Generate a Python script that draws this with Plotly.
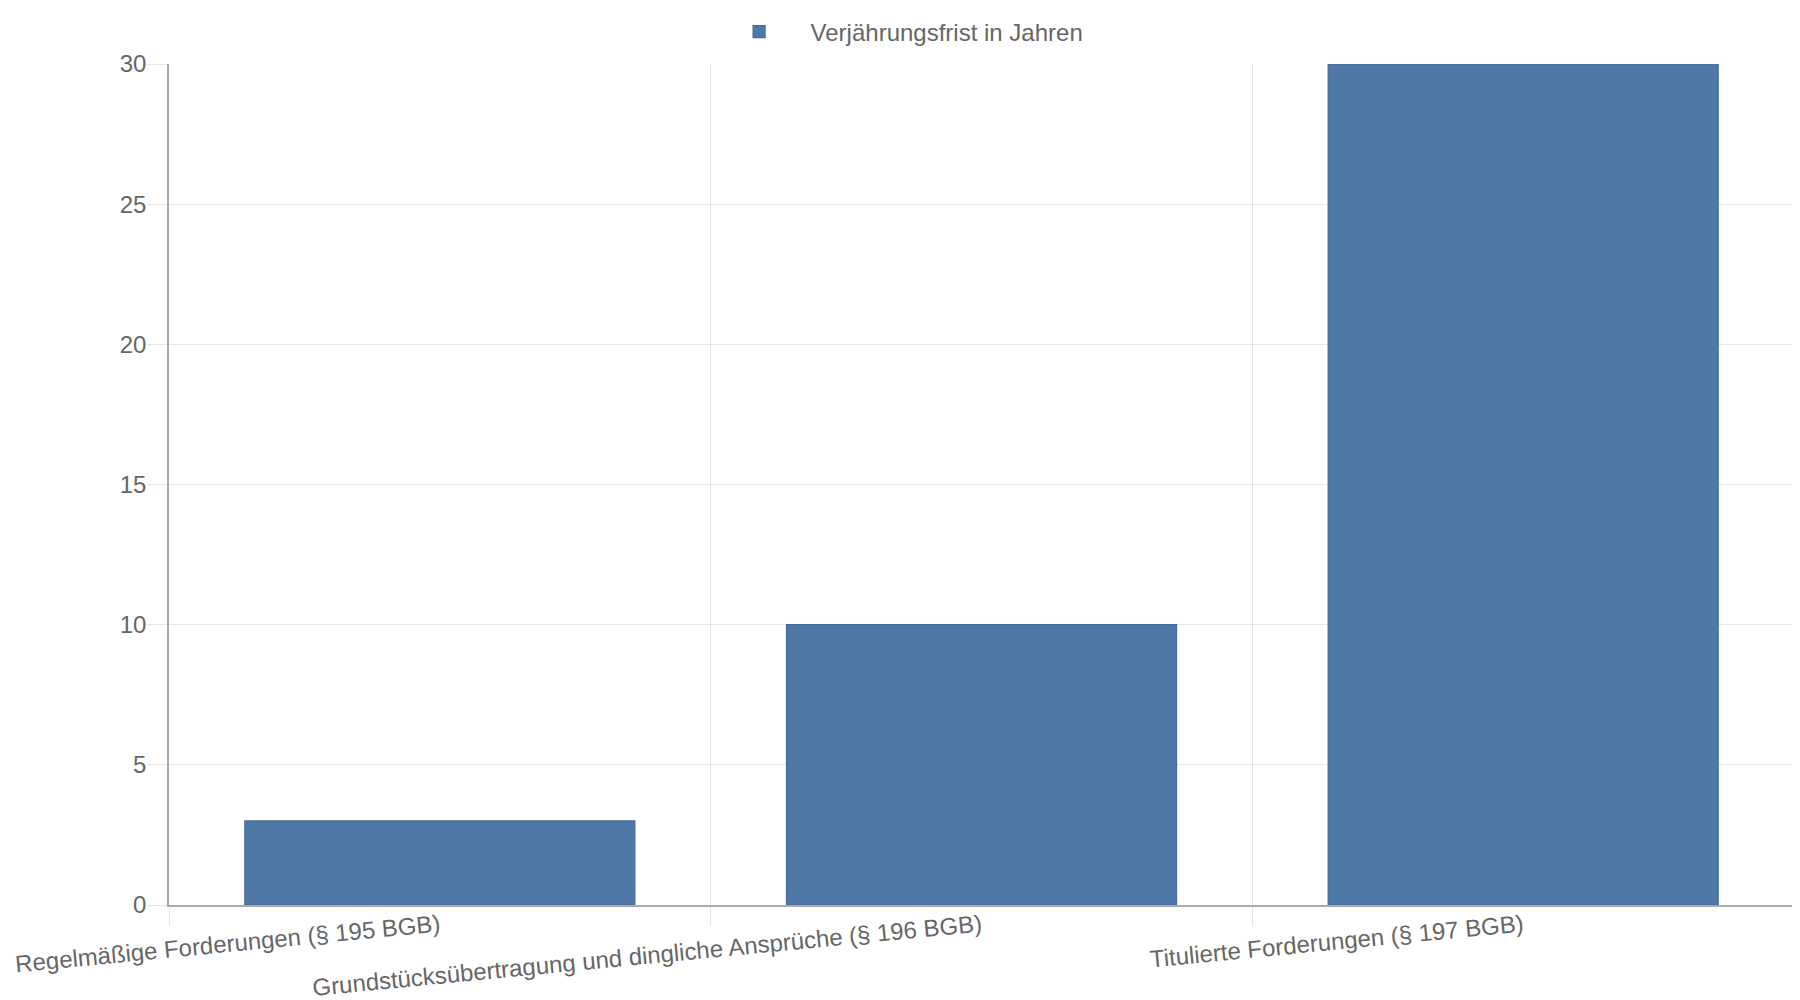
import plotly.graph_objects as go

# Verjährungsfristen nach BGB
kategorien = [
    "Regelmäßige Forderungen (§ 195 BGB)",
    "Grundstücksübertragung und dingliche Ansprüche (§ 196 BGB)",
    "Titulierte Forderungen (§ 197 BGB)",
]
jahre = [3, 10, 30]
serie_name = "Verjährungsfrist in Jahren"
y_ticks = [0, 5, 10, 15, 20, 25, 30]

schrift = dict(family="Liberation Sans, Arial, sans-serif", size=24, color="#666666")
gitter = "#e5e5e5"
achse = "#aaaaaa"

fig = go.Figure()
fig.add_trace(go.Bar(
    x=kategorien,
    y=jahre,
    name=serie_name,
    marker=dict(color="#4e79a7", line=dict(color="#44699a", width=1.2)),
    showlegend=True,
))

# die Seite hat 8px Rand, daher etwas kleiner als das Fenster
fig.update_layout(
    width=1792, height=992,
    margin=dict(l=161, r=6, t=56, b=95, autoexpand=False),
    paper_bgcolor="white",
    plot_bgcolor="white",
    font=schrift,
    bargap=0.28,
    showlegend=True,
    legend=dict(
        orientation="h",
        xref="container", x=0.4967, xanchor="center",
        y=1.038, yanchor="middle",
        itemwidth=93,
        font=dict(size=24, color="#666666"),
    ),
    xaxis=dict(
        type="category",
        automargin=False,
        tickson="boundaries",
        ticks="outside", ticklen=19, tickcolor=gitter, tickwidth=1,
        ticklabelstandoff=-4,
        showgrid=True, gridcolor=gitter,
        showline=True, linecolor=achse, linewidth=1.5,
        tickangle=-5.5,
        tickfont=schrift,
    ),
    yaxis=dict(
        automargin=False,
        range=[0, 30],
        tickvals=y_ticks,
        ticks="outside", ticklen=20, tickcolor=gitter, tickwidth=1,
        ticklabelstandoff=-4,
        showgrid=True, gridcolor=gitter,
        showline=True, linecolor=achse, linewidth=1.5,
        zeroline=False,
        tickfont=schrift,
    ),
)

fig.write_html("out.html")
